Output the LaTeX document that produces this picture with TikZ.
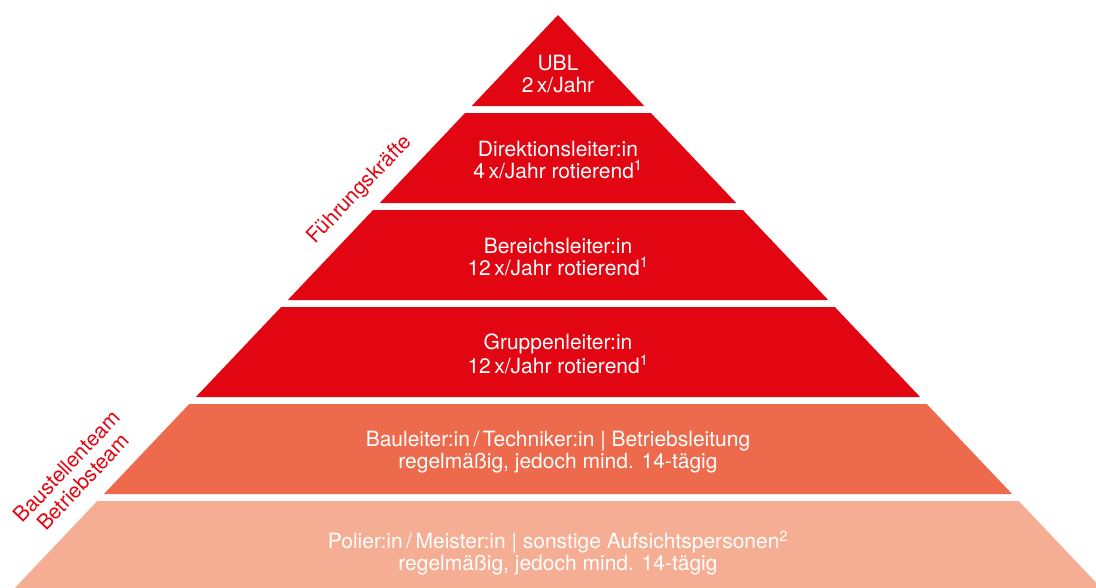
\documentclass[tikz,border=0pt]{standalone}
\usepackage{fontspec}
\setmainfont{TeX Gyre Heros}
\definecolor{pyrred}{RGB}{226,6,19}
\definecolor{pyrorange}{RGB}{237,106,77}
\definecolor{pyrlight}{RGB}{245,174,148}
\begin{document}
\begin{tikzpicture}[x=1pt,y=-1pt]
\tikzset{every node/.style={text=white,align=center,font=\fontsize{21}{21.5}\selectfont},
  side/.style={text=pyrred,rotate=46.5,font=\fontsize{21}{22.5}\selectfont}}
\useasboundingbox (0,0) rectangle (1096,587);
% layers of the pyramid, apex at (558,15)
\fill[pyrred] (558,15) -- ({558+0.948*91},106) -- ({558-0.948*91},106) -- cycle;
\foreach \t/\b/\c in {113/203/pyrred, 210/300/pyrred, 307/397/pyrred,
                      404/494/pyrorange, 501/590/pyrlight}
  \fill[\c] ({558-0.948*(\t-15)},\t) -- ({558+0.948*(\t-15)},\t)
       -- ({558+0.948*(\b-15)},\b) -- ({558-0.948*(\b-15)},\b) -- cycle;
\node at (558,74) (ubl) {UBL\\2\,x/Jahr};
\node at (558,160) (dl) {Direktionsleiter:in\\4\,x/Jahr rotierend\textsuperscript{1}};
\node at (558,257) (bl) {Bereichsleiter:in\\12\,x/Jahr rotierend\textsuperscript{1}};
\node at (558,354) (gl) {Gruppenleiter:in\\12\,x/Jahr rotierend\textsuperscript{1}};
\node at (558,452) (bau) {Bauleiter:in\,/\,Techniker:in | Betriebsleitung\\regelmäßig, jedoch mind. 14-tägig};
\node at (558,553) (pol) {Polier:in\,/\,Meister:in | sonstige Aufsichtspersonen\textsuperscript{2}\\regelmäßig, jedoch mind. 14-tägig};
% labels along the left edge
\node[side] at (360,190) (fk) {Führungskräfte};
\node[side] at (75,474) (bt) {Baustellenteam\\Betriebsteam};
\end{tikzpicture}
\end{document}
